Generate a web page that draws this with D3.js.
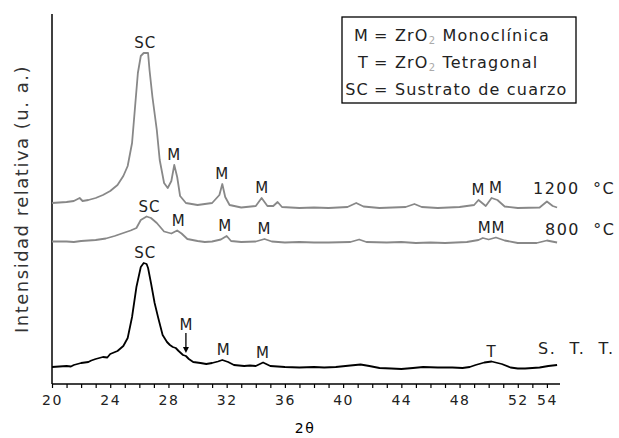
<!DOCTYPE html>
<html>
<head>
<meta charset="utf-8">
<script src="https://cdn.jsdelivr.net/npm/d3@7"></script>
<style>
  body { margin: 0; background: #fff; }
  svg { display: block; font-family: "DejaVu Sans", Verdana, sans-serif; }
  text { white-space: pre; }
</style>
</head>
<body>
<div id="chart"></div>
<script>
// 2θ / intensidad (u. a., sobre la linea base de cada curva)
const stt = [
  [20,2],[20.5,2.5],[21,3],[21.3,2.5],[21.5,4],[22,6],[22.5,7],[22.7,8.5],[23,10],[23.5,12],[23.8,11.5],[24,15],[24.5,18],
  [24.9,23],[25.2,31],[25.5,52],[25.8,82],[26.1,102],[26.3,106],[26.5,105],[26.6,101],[26.8,86],[27.05,66],
  [27.3,51],[27.6,34],[27.9,27],[28.1,24],[28.3,22],[28.5,21],[28.7,18],[29.0,14],[29.2,13],[29.4,10],[29.7,7],
  [30.2,6],[30.6,5],[31.0,6],[31.4,7.5],[31.7,9],[32.1,7],[32.5,4],[33.2,3],[33.6,3.5],[34.0,3],[34.5,6.5],
  [35.0,3],[35.5,2.5],[36,2],[37,1.5],[38,2],[38.7,1.5],[39.5,2],[40.5,3.5],[41.2,4.5],[41.8,3],[42.5,1],
  [43.3,0.5],[44,0],[44.8,1],[45.5,2],[46.5,1.5],[47.5,1.5],[48.2,1],[48.7,2],[49.1,4],[49.7,6.5],[50.2,7.5],
  [50.9,5],[51.5,1.5],[52,0.5],[52.5,0.5],[53,1],[53.5,1.5],[54.1,3],[54.7,4]
];
const t800 = [
  [20,1.5],[21,1.5],[21.5,1],[22,2],[23,3],[23.7,4.5],[24.3,7],[24.9,10],[25.4,12.5],[25.8,15],[26.1,23],
  [26.5,26.5],[26.8,25],[27.2,20],[27.7,11.5],[28.2,9.5],[28.6,12.5],[28.9,9.5],[29.3,4],[30,2],[30.5,1],
  [31,1.5],[31.6,3.5],[32.0,7],[32.3,2],[33,1],[34,1.5],[34.6,4],[35.1,1.5],[36,0.5],[37,1],[38,0.5],[39,0.5],
  [40.5,1],[41.1,3.5],[41.6,1],[43,0.5],[44,1],[45,0],[46,0.5],[47,0],[48.5,1],[49.3,3],[49.6,5],[50.0,3.5],
  [50.5,5.5],[51.1,2.5],[52,0],[53.3,0],[54.0,2.5],[54.7,0.5]
];
const t1200 = [
  [20,5],[20.5,5.5],[21,6],[21.5,7],[21.9,10],[22.1,7],[22.5,8],[23,10],[23.5,13],[24,17],[24.5,23],
  [24.9,32],[25.2,42],[25.5,65],[25.7,100],[25.9,135],[26.1,152],[26.3,155],[26.6,155],[26.7,138],
  [26.9,111],[27.2,78],[27.4,48],[27.7,25],[27.95,20],[28.2,27],[28.4,43],[28.6,31],[28.8,12],[29.2,5],
  [30,3],[31,5],[31.5,13],[31.7,24],[31.9,11],[32.2,3],[33,0.5],[34,2],[34.4,10],[34.8,2],[35.2,2],
  [35.5,6],[35.8,1],[37,0],[38,0.5],[39,0],[40.3,1],[40.9,5],[41.4,1.5],[42.5,0],[44.3,1],[44.9,4],
  [45.4,1],[46.5,0],[48,1],[49,3],[49.3,8],[49.8,2],[50.2,10],[50.6,8],[51.1,1.5],[52,0],[53.5,0.5],
  [54.0,6.5],[54.4,2],[54.7,0.5]
];

const seriesNames = ["S.  T.  T.", "800  °C", "1200  °C"];
const seriesData = [stt, t800, t1200];
const seriesOffset = [14, 140, 175];   // desplazamiento vertical (u. a.)
const seriesColor = ["#000", "#888", "#888"];

// etiquetas de picos: [serie, 2θ, texto]
const peakLabels = [
  [2, 26.4, "SC"], [2, 28.4, "M"], [2, 31.7, "M"], [2, 34.45, "M"], [2, 49.3, "M"], [2, 50.5, "M"],
  [1, 26.7, "SC"], [1, 28.7, "M"], [1, 31.9, "M"], [1, 34.6, "M"], [1, 50.2, "MM"],
  [0, 26.4, "SC"], [0, 31.8, "M"], [0, 34.5, "M"], [0, 50.2, "T"]
];
const arrowLabel = [0, 29.2, "M"];

const xLabels = [20, 24, 28, 32, 36, 40, 44, 48, 52, 54];
const legendRows = [["M", "ZrO", "2", " Monoclínica"], ["T", "ZrO", "2", " Tetragonal"], ["SC", "Sustrato de cuarzo", "", ""]];

const width = 619, height = 438;
const svg = d3.select("#chart").append("svg")
    .attr("width", width)
    .attr("height", height);

const x = d3.scaleLinear().domain([20, 54.9]).range([52, 560]);
const y = d3.scaleLinear().domain([0, 370]).range([383, 13]);

// ejes
svg.append("line")
    .attr("x1", 52).attr("x2", 52).attr("y1", 14).attr("y2", 384)
    .attr("stroke", "#000").attr("stroke-width", 1.5);

const xAxis = svg.append("g")
    .attr("transform", "translate(0,384)")
    .call(d3.axisBottom(x)
      .tickValues(d3.range(20, 55))
      .tickSize(4)
      .tickPadding(7)
      .tickFormat(d => xLabels.includes(d) ? d : ""));
xAxis.select(".domain").attr("stroke-width", 1.5).attr("d", "M52,0H560");
xAxis.selectAll(".tick line").attr("stroke-width", 1.2);
xAxis.selectAll("text")
    .attr("font-size", 14)
    .attr("font-family", "DejaVu Sans, sans-serif")
    .attr("letter-spacing", 1.5)
    .attr("fill", "#222");

svg.append("text")
    .attr("x", 305).attr("y", 433)
    .attr("text-anchor", "middle")
    .attr("font-size", 14)
    .attr("letter-spacing", 1.5)
    .text("2θ");

svg.append("text")
    .attr("transform", "translate(28,199) rotate(-90)")
    .attr("text-anchor", "middle")
    .attr("font-size", 18)
    .attr("letter-spacing", 1.5)
    .attr("fill", "#333")
    .text("Intensidad relativa (u. a.)");

// curvas
const line = d3.line()
    .x(d => x(d[0]))
    .y(d => y(d[1]));

seriesData.forEach((s, i) => {
  svg.append("path")
      .datum(s.map(d => [d[0], d[1] + seriesOffset[i]]))
      .attr("fill", "none")
      .attr("stroke", seriesColor[i])
      .attr("stroke-width", 1.8)
      .attr("stroke-linejoin", "round")
      .attr("d", line);
});

// nombres de las curvas
const nameY = [348, 229, 188];
const nameX = [538, 545, 533];
svg.selectAll(".sname")
  .data(seriesNames)
  .join("text")
    .attr("x", (d, i) => nameX[i])
    .attr("y", (d, i) => nameY[i])
    .attr("dy", "0.35em")
    .attr("font-size", 16)
    .attr("letter-spacing", 1.5)
    .attr("fill", "#222")
    .text(d => d);

function localMax(s, t) {
  const near = s.filter(d => Math.abs(d[0] - t) <= 0.35);
  return d3.max(near, d => d[1]);
}

svg.selectAll(".plabel")
  .data(peakLabels)
  .join("text")
    .attr("x", d => x(d[1]))
    .attr("y", d => y(localMax(seriesData[d[0]], d[1]) + seriesOffset[d[0]]) - 10)
    .attr("dy", "0.35em")
    .attr("text-anchor", "middle")
    .attr("font-size", 15)
    .attr("letter-spacing", 1)
    .attr("fill", "#222")
    .text(d => d[2]);

// M con flecha
{
  const [si, t, txt] = arrowLabel;
  const cx = x(t);
  const top = y(localMax(seriesData[si], t) + seriesOffset[si]);
  svg.append("text")
      .attr("x", cx).attr("y", top - 30)
      .attr("dy", "0.35em")
      .attr("text-anchor", "middle")
      .attr("font-size", 15)
      .attr("fill", "#222")
      .text(txt);
  svg.append("line")
      .attr("x1", cx).attr("x2", cx)
      .attr("y1", top - 22).attr("y2", top - 6)
      .attr("stroke", "#000").attr("stroke-width", 1.3);
  svg.append("path")
      .attr("d", `M${cx - 3},${top - 8}L${cx + 3},${top - 8}L${cx},${top - 2}Z`)
      .attr("fill", "#000");
}

// leyenda
const legend = svg.append("g");
legend.append("rect")
    .attr("x", 342).attr("y", 17).attr("width", 234).attr("height", 86)
    .attr("fill", "#fff").attr("stroke", "#000").attr("stroke-width", 1.3);

legendRows.forEach((r, i) => {
  const ly = 35 + i * 27;
  legend.append("text")
      .attr("x", 369).attr("y", ly).attr("dy", "0.35em")
      .attr("text-anchor", "end")
      .attr("font-size", 16)
      .attr("letter-spacing", 1.2)
      .attr("fill", "#222")
      .text(r[0]);
  const t = legend.append("text")
      .attr("x", 374).attr("y", ly).attr("dy", "0.35em")
      .attr("font-size", 16)
      .attr("letter-spacing", 1.2)
      .attr("fill", "#222");
  t.append("tspan").text("= " + r[1]);
  if (r[2]) {
    t.append("tspan").attr("font-size", 10).attr("dy", 3).attr("fill", "#aaa").text(r[2]);
    t.append("tspan").attr("dy", -3).text(r[3]);
  }
});
</script>
</body>
</html>
